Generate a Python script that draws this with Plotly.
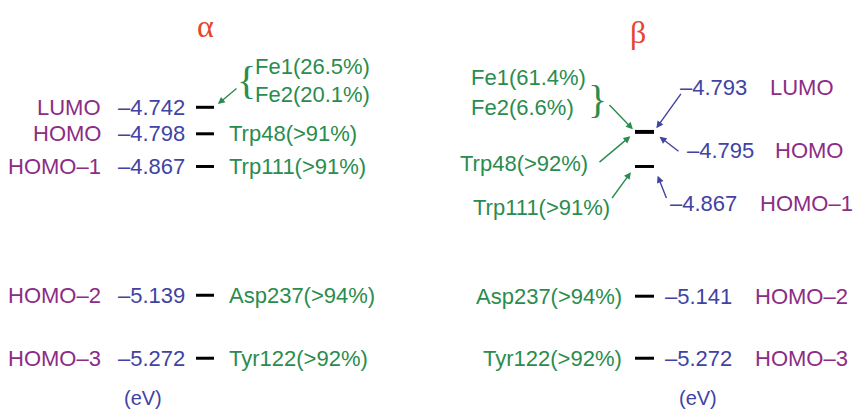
import plotly.graph_objects as go

# ---------------- data ----------------
orbitals = ["LUMO", "HOMO", "HOMO–1", "HOMO–2", "HOMO–3"]
alpha_energies = [-4.742, -4.798, -4.867, -5.139, -5.272]
beta_energies = [-4.793, -4.795, -4.867, -5.141, -5.272]
alpha_contrib = ["Fe1(26.5%)|Fe2(20.1%)", "Trp48(>91%)", "Trp111(>91%)", "Asp237(>94%)", "Tyr122(>92%)"]
beta_contrib = ["Fe1(61.4%)|Fe2(6.6%)", "Trp48(>92%)", "Trp111(>91%)", "Asp237(>94%)", "Tyr122(>92%)"]
spin_titles = ["α", "β"]
unit_label = "(eV)"

# ---------------- styles ----------------
PURPLE = "#8c2c86"
BLUE = "#3f43a3"
GREEN = "#2a8c4e"
RED = "#e4472d"
FONT = "Liberation Sans"
FS = 22

W, H = 859, 414
YR = [-5.3898, -4.5154]

def val(e):
    return "–%.3f" % abs(e)

fig = go.Figure()

# level bars
AX0, AX1 = 196, 214
BX0, BX1 = 635, 654
for energies, x0, x1 in [(alpha_energies, AX0, AX1), (beta_energies, BX0, BX1)]:
    xs, ys = [], []
    for e in energies:
        xs += [x0, x1, None]
        ys += [e, e, None]
    fig.add_trace(go.Scatter(x=xs, y=ys, mode="lines",
                             line=dict(color="black", width=3),
                             hoverinfo="skip", showlegend=False))

ann = []

def txt(x, y, t, color, xanchor="left", yshift=0, size=FS, family=FONT):
    ann.append(dict(x=x, y=y, xref="x", yref="y", text=t, showarrow=False,
                    xanchor=xanchor, yanchor="middle", yshift=yshift,
                    font=dict(family=family, size=size, color=color)))

def arrow(x, y, ax, ay, color, standoff=0):
    ann.append(dict(x=x, y=y, xref="x", yref="y", text="", showarrow=True,
                    ax=ax, ay=ay, axref="pixel", ayref="pixel",
                    arrowhead=2, arrowsize=1, arrowwidth=1.4,
                    arrowcolor=color, standoff=standoff))

# ---- alpha column ----
for i, (o, e, c) in enumerate(zip(orbitals, alpha_energies, alpha_contrib)):
    txt(103, e, o, PURPLE, xanchor="right")
    txt(116, e, val(e), BLUE)
    if "|" in c:
        c1, c2 = c.split("|")
        txt(253, e, c1, GREEN, yshift=41)
        txt(253, e, c2, GREEN, yshift=13)
        txt(246, e, "{", GREEN, xanchor="center", yshift=27, size=40,
            family="Liberation Serif")
        arrow(AX1, e, 24, -20, GREEN, standoff=5)
    else:
        txt(227, e, c, GREEN)

# ---- beta column ----
beta_value_pos = {0: (678, 44, 768), 1: (685, -18, 773), 2: (668, -37, 758)}
beta_arrows_blue = {0: (28, -39, 4), 1: (26, 20, 7), 2: (13, 33, 10)}
for i, (o, e, c) in enumerate(zip(orbitals, beta_energies, beta_contrib)):
    if i in beta_value_pos:
        vx, ys, lx = beta_value_pos[i]
        txt(vx, e, val(e), BLUE, yshift=ys)
        txt(lx, e, o, PURPLE, yshift=ys)
        ax, ay, so = beta_arrows_blue[i]
        arrow(BX1, e, ax, ay, BLUE, standoff=so)
    else:
        txt(663, e, val(e), BLUE)
        txt(753, e, o, PURPLE)

    if i == 0:
        c1, c2 = c.split("|")
        txt(469, e, c1, GREEN, yshift=54)
        txt(469, e, c2, GREEN, yshift=24)
        txt(597, e, "}", GREEN, xanchor="center", yshift=32, size=40,
            family="Liberation Serif")
        arrow(BX0, e, -27, -28, GREEN, standoff=3)
    elif i == 1:
        txt(590, e, c, GREEN, xanchor="right", yshift=-31)
        arrow(BX0, e, -37, 31, GREEN, standoff=6)
    elif i == 2:
        txt(612, e, c, GREEN, xanchor="right", yshift=-41)
        arrow(BX0, e, -24, 33, GREEN, standoff=7)
    else:
        txt(624, e, c, GREEN, xanchor="right")

# units
txt(143, alpha_energies[-1], unit_label, BLUE, xanchor="center", yshift=-40, size=20)
txt(698, beta_energies[-1], unit_label, BLUE, xanchor="center", yshift=-40, size=20)

# spin titles
for t, x, y in zip(spin_titles, [205, 638], [26, 32]):
    ann.append(dict(x=x / W, y=1 - y / H, xref="paper", yref="paper", text=t,
                    showarrow=False, xanchor="center", yanchor="middle",
                    font=dict(family="Liberation Serif", size=32, color=RED)))

fig.update_layout(
    width=W, height=H,
    margin=dict(l=0, r=0, t=0, b=0),
    paper_bgcolor="white", plot_bgcolor="white",
    xaxis=dict(range=[0, W], visible=False, fixedrange=True),
    yaxis=dict(range=YR, visible=False, fixedrange=True),
    annotations=ann,
    showlegend=False,
)

fig.write_html("out.html")
